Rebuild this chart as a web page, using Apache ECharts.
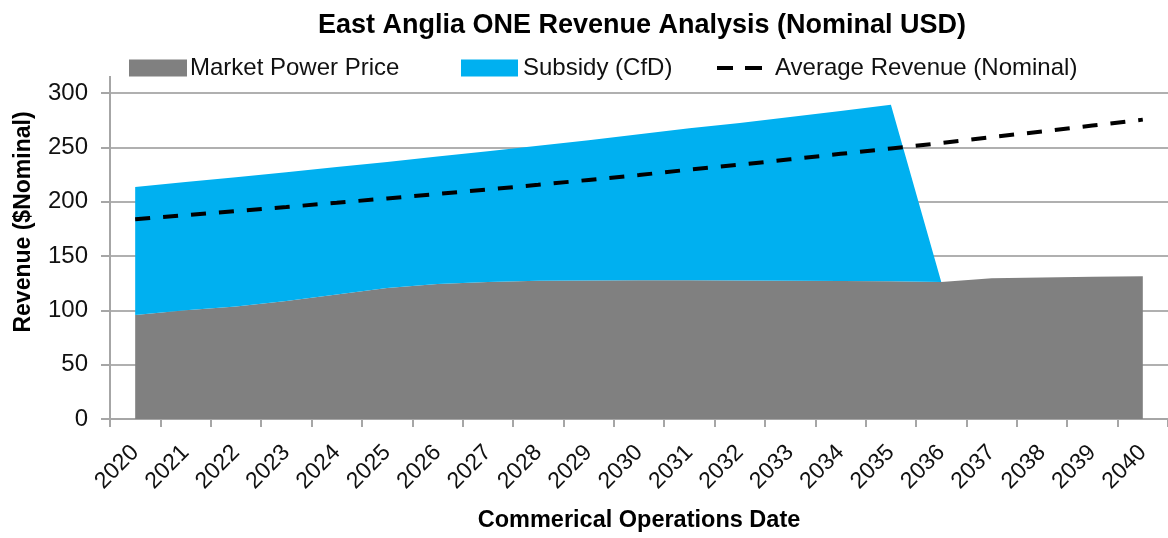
<!DOCTYPE html>
<html>
<head>
<meta charset="utf-8">
<script src="https://cdn.jsdelivr.net/npm/echarts@6/dist/echarts.min.js"></script>
<style>
html,body{margin:0;padding:0;background:#fff;}
#chart{width:1168px;height:538px;}
</style>
</head>
<body>
<div id="chart"></div>
<script>
const years = ['2020','2021','2022','2023','2024','2025','2026','2027','2028','2029','2030','2031','2032','2033','2034','2035','2036','2037','2038','2039','2040'];
const marketPrice = [95.7, 100, 103.5, 108.5, 114.5, 120.6, 124.3, 126.1, 127.3, 127.5, 127.6, 127.6, 127.4, 127.2, 127, 126.7, 126, 129.5, 130.2, 130.8, 131.3];
const subsidy = [117.7, 118, 119, 118.5, 117.5, 115.9, 117.2, 120.4, 124.2, 129, 134.4, 139.9, 145.1, 150.8, 156.5, 162.6, 0, 0, 0, 0, 0];
const averageRevenue = [183.8, 187.5, 191.3, 195.1, 199.0, 203.0, 207.1, 211.2, 215.5, 220, 224.5, 229.5, 234, 239, 244, 249, 254, 259.5, 264.5, 270, 275.5];
const yTicks = [0, 50, 100, 150, 200, 250, 300];

const FONT = 'Liberation Sans';
const chart = echarts.init(document.getElementById('chart'), null, {renderer: 'canvas'});
chart.setOption({
  animation: false,
  backgroundColor: '#ffffff',
  title: {
    text: 'East Anglia ONE Revenue Analysis (Nominal USD)',
    left: 637, top: 7, textAlign: 'center',
    textStyle: {fontFamily: FONT, fontSize: 27, fontWeight: 'bold', color: '#000'}
  },
  legend: [
    {data: [{name: 'Market Power Price', icon: 'rect'}], left: 124, top: 51, itemWidth: 58, itemHeight: 17,
     textStyle: {fontFamily: FONT, fontSize: 24, color: '#111', padding: [0, 0, 0, -2]}},
    {data: [{name: 'Subsidy (CfD)', icon: 'rect'}], left: 456, top: 51, itemWidth: 57, itemHeight: 17,
     textStyle: {fontFamily: FONT, fontSize: 24, color: '#111'}},
    {data: [{name: 'Average Revenue (Nominal)', icon: 'path://M0,0 L16,0 L16,4 L0,4 Z M28,0 L45,0 L45,4 L28,4 Z'}],
     left: 712, top: 51, itemWidth: 45, itemHeight: 4,
     itemStyle: {color: '#000'},
     textStyle: {fontFamily: FONT, fontSize: 24, color: '#111', padding: [0, 0, 0, 8]}}
  ],
  grid: {left: 110, right: 0, top: 93, bottom: 116, containLabel: false},
  xAxis: {
    type: 'category', data: years, boundaryGap: true,
    name: 'Commerical Operations Date', nameLocation: 'middle', nameGap: 90,
    nameTextStyle: {fontFamily: FONT, fontSize: 23.5, fontWeight: 'bold', color: '#000'},
    axisLine: {show: true, lineStyle: {color: '#a6a6a6', width: 2}},
    axisTick: {show: true, length: 8, lineStyle: {color: '#a6a6a6', width: 2}},
    axisLabel: {rotate: 45, margin: 30, fontFamily: FONT, fontSize: 23, color: '#111', interval: 0},
    splitLine: {show: false}
  },
  yAxis: {
    type: 'value', min: 0, max: 300, interval: 50,
    axisLine: {show: true, lineStyle: {color: '#a6a6a6', width: 2}},
    axisTick: {show: true, length: 9, lineStyle: {color: '#a6a6a6', width: 2}},
    axisLabel: {margin: 22, fontFamily: FONT, fontSize: 24, color: '#111',
      formatter: v => yTicks.includes(v) ? String(v) : ''},
    splitLine: {show: true, lineStyle: {color: '#b0b0b0', width: 2}}
  },
  graphic: [
    {type: 'text', x: 24, y: 222, rotation: Math.PI / 2,
     style: {text: 'Revenue ($Nominal)', font: 'bold 23px "Liberation Sans"', fill: '#000',
       textAlign: 'center', textVerticalAlign: 'middle'}},
    {type: 'line', shape: {x1: 110, y1: 76, x2: 110, y2: 93},
     style: {stroke: '#a6a6a6', lineWidth: 2}}
  ],
  series: [
    {name: 'Market Power Price', type: 'line', stack: 'rev', data: marketPrice,
     symbol: 'none', lineStyle: {width: 0}, itemStyle: {color: '#808080'},
     areaStyle: {color: '#808080', opacity: 1}, z: 2},
    {name: 'Subsidy (CfD)', type: 'line', stack: 'rev', data: subsidy,
     symbol: 'none', lineStyle: {width: 0}, itemStyle: {color: '#00B0F0'},
     areaStyle: {color: '#00B0F0', opacity: 1}, z: 2},
    {name: 'Average Revenue (Nominal)', type: 'line', data: averageRevenue,
     symbol: 'none', itemStyle: {color: '#000'},
     lineStyle: {color: '#000', width: 4, type: [15, 13]}, z: 5}
  ]
});
</script>
</body>
</html>
